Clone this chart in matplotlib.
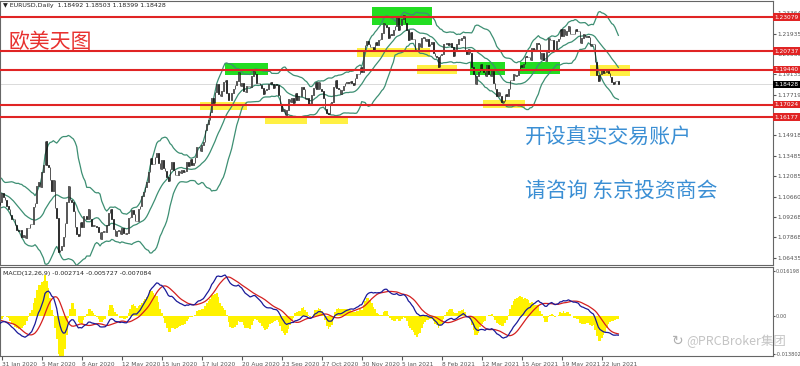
import numpy as np
import pandas as pd
import matplotlib
matplotlib.use('Agg')
import matplotlib.pyplot as plt
from matplotlib.patches import Rectangle

plt.rcParams['font.family'] = ['DejaVu Sans', 'Noto Sans CJK SC']

# EURUSD daily closes, one line per week (2 Dec 2019 .. 6 Jul 2021)
closes = [
    1.1077, 1.1081, 1.1077, 1.1105, 1.1060,
    1.1064, 1.1092, 1.1129, 1.1133, 1.1119,
    1.1144, 1.1150, 1.1112, 1.1121, 1.1079,
    1.1089, 1.1090, 1.1101, 1.1177,
    1.1199, 1.1213, 1.1171, 1.1159,
    1.1195, 1.1152, 1.1105, 1.1105, 1.1120,
    1.1133, 1.1127, 1.1150, 1.1136, 1.1092,
    1.1097, 1.1084, 1.1093, 1.1052, 1.1025,
    1.1019, 1.1020, 1.1010, 1.1033, 1.1093,
    1.1062, 1.1044, 1.1001, 1.0980, 1.0944,
    1.0913, 1.0916, 1.0873, 1.0840, 1.0830,
    1.0837, 1.0791, 1.0805, 1.0783, 1.0848,
    1.0851, 1.0881, 1.0881, 1.0994, 1.1026,
    1.1138, 1.1172, 1.1134, 1.1238, 1.1285,
    1.1452, 1.1284, 1.1269, 1.1180, 1.1106,
    1.1182, 1.0989, 1.0917, 1.0687, 1.0697,
    1.0723, 1.0791, 1.0882, 1.1031, 1.1140,
    1.1046, 1.1031, 1.0965, 1.0857, 1.0807,
    1.0794, 1.0893, 1.0856, 1.0936, 1.0936,
    1.0914, 1.0984, 1.0910, 1.0864, 1.0874,
    1.0862, 1.0856, 1.0823, 1.0773, 1.0821,
    1.0829, 1.0820, 1.0874, 1.0955, 1.0981,
    1.0911, 1.0841, 1.0794, 1.0833, 1.0838,
    1.0806, 1.0849, 1.0817, 1.0806, 1.0819,
    1.0922, 1.0924, 1.0978, 1.0950, 1.0902,
    1.0896, 1.0980, 1.1006, 1.1074, 1.1101,
    1.1136, 1.1171, 1.1235, 1.1337, 1.1291,
    1.1295, 1.1343, 1.1370, 1.1299, 1.1257,
    1.1321, 1.1263, 1.1242, 1.1203, 1.1176,
    1.1256, 1.1307, 1.1250, 1.1219, 1.1219,
    1.1244, 1.1234, 1.1251, 1.1238, 1.1243,
    1.1309, 1.1276, 1.1330, 1.1284, 1.1301,
    1.1343, 1.1409, 1.1414, 1.1383, 1.1427,
    1.1447, 1.1526, 1.1569, 1.1595, 1.1655,
    1.1750, 1.1717, 1.1790, 1.1847, 1.1778,
    1.1761, 1.1799, 1.1860, 1.1877, 1.1786,
    1.1735, 1.1737, 1.1784, 1.1811, 1.1841,
    1.1870, 1.1930, 1.1834, 1.1856, 1.1796,
    1.1790, 1.1834, 1.1830, 1.1822, 1.1903,
    1.1937, 1.1914, 1.1852, 1.1850, 1.1836,
    1.1817, 1.1778, 1.1802, 1.1814, 1.1845,
    1.1861, 1.1845, 1.1816, 1.1848, 1.1841,
    1.1772, 1.1706, 1.1658, 1.1670, 1.1630,
    1.1666, 1.1744, 1.1722, 1.1749, 1.1715,
    1.1783, 1.1734, 1.1760, 1.1762, 1.1825,
    1.1812, 1.1745, 1.1746, 1.1706, 1.1718,
    1.1768, 1.1820, 1.1862, 1.1813, 1.1860,
    1.1812, 1.1795, 1.1746, 1.1673, 1.1647,
    1.1640, 1.1714, 1.1723, 1.1826, 1.1874,
    1.1815, 1.1812, 1.1777, 1.1807, 1.1834,
    1.1855, 1.1858, 1.1851, 1.1870, 1.1856,
    1.1841, 1.1890, 1.1914, 1.1914, 1.1962,
    1.1926, 1.2073, 1.2113, 1.2146, 1.2121,
    1.2105, 1.2102, 1.2078, 1.2133, 1.2113,
    1.2148, 1.2154, 1.2196, 1.2266, 1.2255,
    1.2237, 1.2167, 1.2189, 1.2186,
    1.2216, 1.2250, 1.2299, 1.2216,
    1.2251, 1.2296, 1.2325, 1.2271, 1.2220,
    1.2151, 1.2206, 1.2158, 1.2156, 1.2078,
    1.2076, 1.2131, 1.2105, 1.2166, 1.2170,
    1.2140, 1.2160, 1.2112, 1.2120, 1.2136,
    1.2060, 1.2041, 1.2036, 1.1962, 1.2045,
    1.2052, 1.2119, 1.2120, 1.2132, 1.2118,
    1.2128, 1.2105, 1.2041, 1.2090, 1.2120,
    1.2157, 1.2151, 1.2165, 1.2177, 1.2072,
    1.2051, 1.2091, 1.2061, 1.1965, 1.1915,
    1.1846, 1.1899, 1.1929, 1.1984, 1.1953,
    1.1929, 1.1900, 1.1978, 1.1914, 1.1904,
    1.1939, 1.1851, 1.1813, 1.1763, 1.1794,
    1.1765, 1.1719, 1.1728, 1.1778, 1.1763,
    1.1814, 1.1874, 1.1872, 1.1913, 1.1899,
    1.1911, 1.1947, 1.1979, 1.1966, 1.1983,
    1.2037, 1.2035, 1.2034, 1.2014, 1.2097,
    1.2080, 1.2091, 1.2128, 1.2125, 1.2020,
    1.2062, 1.2013, 1.2006, 1.2066, 1.2165,
    1.2147, 1.2149, 1.2076, 1.2080, 1.2143,
    1.2155, 1.2224, 1.2175, 1.2226, 1.2182,
    1.2212, 1.2248, 1.2193, 1.2193, 1.2193,
    1.2228, 1.2213, 1.2209, 1.2127, 1.2166,
    1.2190, 1.2171, 1.2177, 1.2174, 1.2106,
    1.2120, 1.2125, 1.1995, 1.1906, 1.1864,
    1.1917, 1.1942, 1.1925, 1.1931, 1.1935,
    1.1925, 1.1895, 1.1857, 1.1848, 1.1865,
    1.1867, 1.18428,
]
holidays = ['2019-12-25', '2020-01-01', '2020-12-25', '2021-01-01']

# horizontal levels drawn on the chart
levels = [1.23079, 1.20737, 1.19440, 1.17024, 1.16177]
last_price = 1.18428

# highlighted zones: start date, width in bars, low, high
green_zones = [('2020-08-06', 26, 1.1908, 1.1991),
               ('2020-12-08', 36, 1.2254, 1.2378),
               ('2021-03-03', 21, 1.1908, 1.1998),
               ('2021-04-14', 24, 1.1915, 1.1998)]
yellow_zones = [('2020-07-16', 28, 1.1666, 1.1722),
                ('2020-09-09', 25, 1.1570, 1.1618),
                ('2020-10-26', 17, 1.1570, 1.1618),
                ('2020-11-25', 44, 1.2033, 1.2095),
                ('2021-01-18', 24, 1.1915, 1.1977),
                ('2021-03-15', 25, 1.1680, 1.1735),
                ('2021-06-11', 24, 1.1901, 1.1977)]

tick_dates = ['2020-01-31', '2020-03-05', '2020-04-08', '2020-05-12', '2020-06-15',
              '2020-07-17', '2020-08-20', '2020-09-23', '2020-10-27', '2020-11-30',
              '2021-01-05', '2021-02-08', '2021-03-12', '2021-04-15', '2021-05-19',
              '2021-06-22']
price_ticks = [1.23364, 1.21935, 1.20535, 1.19135, 1.17719, 1.14918,
               1.13485, 1.12085, 1.10660, 1.09268, 1.07868, 1.06435]
macd_ticks = [0.016198, 0.0, -0.013802]
macd_tick_labels = ['0.016198', '0.00', '-0.013802']

dates = pd.bdate_range('2019-12-02', '2021-07-06')
dates = dates[~dates.isin(pd.to_datetime(holidays))]
if len(dates) != len(closes):
    raise SystemExit('length mismatch %d %d' % (len(dates), len(closes)))

s = pd.Series(closes)
idx = np.arange(len(s))
opens = s.shift(1).fillna(s.iloc[0])

def pos(d):
    return int(dates.searchsorted(pd.Timestamp(d)))

# indicators (MT4 style: signal is SMA of MACD, histogram shows 2x difference)
mid = s.rolling(20).mean()
sd = s.rolling(20).std(ddof=0)
upper = mid + 2 * sd
lower = mid - 2 * sd
macd = s.ewm(span=12, adjust=False).mean() - s.ewm(span=26, adjust=False).mean()
signal = macd.rolling(9).mean()
hist = 2 * (macd - signal)

W, H = 800, 366
fig = plt.figure(figsize=(8, 3.66), dpi=100)
ax = fig.add_axes([0, 1 - 265 / H, 773 / W, 264 / H])
ax2 = fig.add_axes([0, 1 - 356 / H, 773 / W, 89 / H])

px_bar = 40 / 24
left = pos('2020-01-31') - 1.7 / px_bar
xl = (left, left + 773 / px_bar)

for a in (ax, ax2):
    a.set_xlim(*xl)
    for sp in a.spines.values():
        sp.set_color('#666666')
        sp.set_linewidth(0.8)
    a.yaxis.tick_right()
    a.tick_params(axis='y', labelsize=4.2, length=2, colors='#555555', pad=1)
ax2.tick_params(axis='y', labelsize=3.6, length=1.5, pad=0.5)

# zones
for d, n, lo, hi in yellow_zones:
    ax.add_patch(Rectangle((pos(d), lo), n, hi - lo, color='#ffee22', alpha=0.85, lw=0, zorder=1))
for d, n, lo, hi in green_zones:
    ax.add_patch(Rectangle((pos(d), lo), n, hi - lo, color='#22dd22', lw=0, zorder=1))

# bollinger
for band in (upper, mid, lower):
    ax.plot(idx, band, color='#3d8f73', lw=0.9, zorder=2)

# candles
up = s >= opens
ax.bar(idx, s - opens, bottom=opens, width=0.5,
       color=np.where(up, 'white', 'black'), edgecolor='#111111', linewidth=0.5, zorder=3)

for lv in levels:
    ax.axhline(lv, color='#e02424', lw=1.5, zorder=4)
    ax.text(1.002, lv, '%.5f' % lv, transform=ax.get_yaxis_transform(), color='white',
            fontsize=4.2, va='center', ha='left', clip_on=False, zorder=6,
            bbox=dict(boxstyle='square,pad=0.2', fc='#e02424', ec='none'))
ax.axhline(last_price, color='#cccccc', lw=0.5, zorder=1)
ax.text(1.002, last_price, '%.5f' % last_price, transform=ax.get_yaxis_transform(),
        color='white', fontsize=4.2, va='center', ha='left', clip_on=False, zorder=6,
        bbox=dict(boxstyle='square,pad=0.2', fc='black', ec='none'))

ax.set_ylim(1.06435 - 7 / 1447, 1.06435 + 257 / 1447)
ax.set_yticks(price_ticks)
ax.set_yticklabels(['%.5f' % p for p in price_ticks])
ax.set_xticks([])

# macd panel
ax2.bar(idx, hist, width=1.0, color='#fff200', lw=0, zorder=1)
ax2.plot(idx, macd, color='#1a1a99', lw=0.9, zorder=3)
ax2.plot(idx, signal, color='#d42020', lw=0.9, zorder=2)
ax2.set_ylim(-40 / 2767, 49 / 2767)
ax2.set_yticks(macd_ticks)
ax2.set_yticklabels(macd_tick_labels)
tp = [pos(d) for d in tick_dates]
ax2.set_xticks(tp)
ax2.set_xticklabels(['%d %s' % (pd.Timestamp(d).day, pd.Timestamp(d).strftime('%b %Y')) for d in tick_dates],
                    ha='left')
ax2.tick_params(axis='x', labelsize=4.2, length=3, colors='#555555', pad=1)

# texts
fig.text(3 / W, 1 - 5 / H, '\u25bc EURUSD,Daily  1.18492 1.18503 1.18399 1.18428',
         fontsize=4.5, va='center', color='#222222')
fig.text(3 / W, 1 - 273 / H, 'MACD(12,26,9) -0.002714 -0.005727 -0.007084',
         fontsize=4.5, va='center', color='#222222')
fig.text(8 / W, 1 - 42 / H, '欧美天图', fontsize=15, color='#e8312f', va='center',
         family=['Noto Sans CJK SC', 'DejaVu Sans'])
fig.text(525 / W, 1 - 137 / H, '开设真实交易账户', fontsize=15, color='#3b8fd4', va='center',
         family=['Noto Sans CJK SC', 'DejaVu Sans'])
fig.text(525 / W, 1 - 191 / H, '请咨询 东京投资商会', fontsize=15, color='#3b8fd4', va='center',
         family=['Noto Sans CJK SC', 'DejaVu Sans'])
fig.text(672 / W, 1 - 341 / H, '\u21bb', fontsize=10, color='#b0b0b0', va='center')
fig.text(686 / W, 1 - 341 / H, '@PRCBroker集团', fontsize=9, color='#c4c4c4', va='center',
         family=['Noto Sans CJK SC', 'DejaVu Sans'])

fig.savefig('out.png', dpi=100)
